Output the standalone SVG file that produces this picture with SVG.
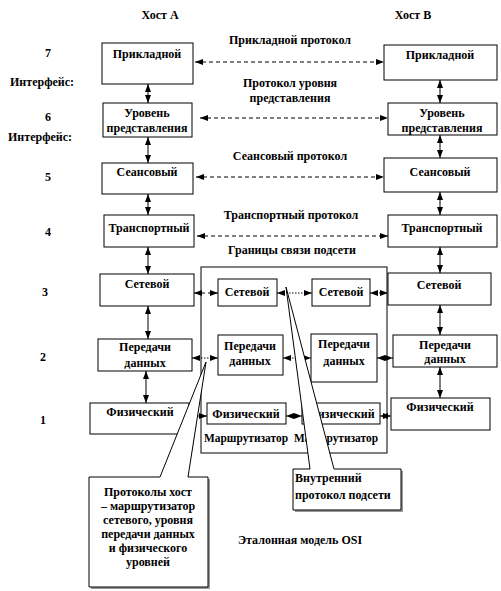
<svg xmlns="http://www.w3.org/2000/svg" width="501" height="591" viewBox="0 0 501 591">
<defs>
<marker id="ah" markerWidth="8" markerHeight="6" refX="8" refY="3" orient="auto-start-reverse" markerUnits="userSpaceOnUse"><path d="M0,0 L8,3 L0,6 z" fill="#000"/></marker>
</defs>
<style>
text{font-family:"Liberation Serif","Times New Roman",serif;font-weight:bold;font-size:12px;fill:#000}
.c{text-anchor:middle}
.box{fill:#fff;stroke:#000;stroke-width:1}
.a{stroke:#000;stroke-width:1;fill:none;marker-start:url(#ah);marker-end:url(#ah)}
.e{stroke:#000;stroke-width:1;fill:none;marker-end:url(#ah)}
.d{stroke-dasharray:4 3}
.o{stroke-dasharray:1.5 1.5}
.co{fill:#fff;stroke:#000;stroke-width:1}
.sh{fill:#999}
</style>
<rect width="501" height="591" fill="#fff"/>

<g id="labels">
<text class="c" x="160" y="19">Хост А</text>
<text class="c" x="413" y="19">Хост В</text>
<text class="c" x="48" y="57">7</text>
<text x="10" y="86">Интерфейс:</text>
<text class="c" x="48" y="121">6</text>
<text x="8" y="141">Интерфейс:</text>
<text class="c" x="48" y="181">5</text>
<text class="c" x="48" y="236">4</text>
<text class="c" x="45" y="296">3</text>
<text class="c" x="43" y="361">2</text>
<text class="c" x="43" y="424">1</text>
<text class="c" x="290" y="44">Прикладной протокол</text>
<text class="c" x="290" y="87">Протокол уровня</text>
<text class="c" x="290" y="102">представления</text>
<text class="c" x="290" y="160">Сеансовый протокол</text>
<text class="c" x="291" y="219">Транспортный протокол</text>
<text class="c" x="292" y="254">Границы связи подсети</text>
<text class="c" x="300" y="544">Эталонная модель OSI</text>
</g>

<g id="router-area">
<rect class="box" x="201" y="267" width="186" height="186"/>
<text x="204" y="442" textLength="84" lengthAdjust="spacingAndGlyphs">Маршрутизатор</text>
<text x="294" y="442" textLength="84" lengthAdjust="spacingAndGlyphs">Маршрутизатор</text>
</g>

<g id="a7"><rect class="box" x="102" y="43" width="91" height="41"/><text class="c" x="147" y="58">Прикладной</text></g>
<g id="a6"><rect class="box" x="103" y="103" width="89" height="34"/><text class="c" x="147" y="117">Уровень</text><text class="c" x="147" y="132">представления</text></g>
<g id="a5"><rect class="box" x="102" y="163" width="91" height="31"/><text class="c" x="147" y="176">Сеансовый</text></g>
<g id="a4"><rect class="box" x="104" y="215" width="90" height="32"/><text class="c" x="149" y="232">Транспортный</text></g>
<g id="a3"><rect class="box" x="100" y="274" width="94" height="32"/><text class="c" x="147" y="288">Сетевой</text></g>
<g id="a2"><rect class="box" x="98" y="339" width="94" height="32"/><text class="c" x="145" y="351">Передачи</text><text class="c" x="145" y="367">данных</text></g>
<g id="a1"><rect class="box" x="90" y="403" width="99" height="31"/><text class="c" x="140" y="416">Физический</text></g>

<g id="b7"><rect class="box" x="384" y="45" width="113" height="35"/><text class="c" x="440" y="59">Прикладной</text></g>
<g id="b6"><rect class="box" x="388" y="103" width="109" height="32"/><text class="c" x="442" y="117">Уровень</text><text class="c" x="442" y="132">представления</text></g>
<g id="b5"><rect class="box" x="384" y="158" width="113" height="34"/><text class="c" x="440" y="176">Сеансовый</text></g>
<g id="b4"><rect class="box" x="388" y="215" width="109" height="32"/><text class="c" x="442" y="232">Транспортный</text></g>
<g id="b3"><rect class="box" x="388" y="273" width="103" height="32"/><text class="c" x="439" y="289">Сетевой</text></g>
<g id="b2"><rect class="box" x="393" y="335" width="104" height="32"/><text class="c" x="445" y="349">Передачи</text><text class="c" x="445" y="363">данных</text></g>
<g id="b1"><rect class="box" x="391" y="398" width="99" height="32"/><text class="c" x="440" y="411">Физический</text></g>

<g id="r1-net"><rect class="box" x="218" y="279" width="59" height="27"/><text class="c" x="247" y="296">Сетевой</text></g>
<g id="r2-net"><rect class="box" x="312" y="279" width="58" height="27"/><text class="c" x="341" y="296">Сетевой</text></g>
<g id="r1-dl"><rect class="box" x="218" y="335" width="65" height="40"/><text class="c" x="250" y="350">Передачи</text><text class="c" x="250" y="365">данных</text></g>
<g id="r2-dl"><rect class="box" x="311" y="334" width="66" height="48"/><text class="c" x="344" y="348">Передачи</text><text class="c" x="344" y="365">данных</text></g>
<g id="r1-ph"><rect class="box" x="207" y="403" width="79" height="21"/><text class="c" x="246" y="418">Физический</text></g>
<g id="r2-ph"><rect class="box" x="302" y="403" width="78" height="21"/><text class="c" x="341" y="418">Физический</text></g>

<g id="connectors">
<line class="a" x1="148" y1="84" x2="148" y2="103"/>
<line class="a" x1="148" y1="137" x2="148" y2="163"/>
<line class="a" x1="148" y1="194" x2="148" y2="215"/>
<line class="a" x1="148" y1="247" x2="148" y2="274"/>
<line class="a" x1="148" y1="306" x2="148" y2="339"/>
<line class="a" x1="146" y1="371" x2="146" y2="403"/>
<line class="a" x1="440" y1="80" x2="440" y2="103"/>
<line class="a" x1="440" y1="135" x2="440" y2="158"/>
<line class="a" x1="440" y1="192" x2="440" y2="215"/>
<line class="a" x1="440" y1="247" x2="440" y2="273"/>
<line class="a" x1="440" y1="305" x2="440" y2="335"/>
<line class="a" x1="440" y1="367" x2="440" y2="398"/>
<line class="a d" x1="195" y1="62" x2="384" y2="62"/>
<line class="a d" x1="200" y1="118" x2="388" y2="118"/>
<line class="a d" x1="196" y1="177" x2="384" y2="177"/>
<line class="a d" x1="197" y1="236" x2="388" y2="236"/>
<line class="a d" x1="194" y1="293" x2="218" y2="293"/>
<line class="a o" x1="277" y1="293" x2="312" y2="293"/>
<line class="a o" x1="370" y1="293" x2="388" y2="293"/>
<line class="a o" x1="192" y1="358" x2="218" y2="358"/>
<line class="a o" x1="283" y1="358" x2="311" y2="358"/>
<line class="a o" x1="377" y1="358" x2="393" y2="358"/>
<line class="e" x1="194" y1="416" x2="207" y2="416"/>
<line class="a o" x1="286" y1="416" x2="302" y2="416"/>
<line class="a o" x1="380" y1="416" x2="391" y2="416"/>
</g>

<g id="callout-left">
<rect class="sh" x="91" y="479" width="119" height="110"/>
<path class="co" d="M89,477 L160,477 L206,362 L188,477 L208,477 L208,587 L89,587 Z"/>
<text class="c" x="148" y="496">Протоколы хост</text>
<text class="c" x="148" y="510">– маршрутизатор</text>
<text class="c" x="148" y="524">сетевого, уровня</text>
<text class="c" x="148" y="538">передачи данных</text>
<text class="c" x="148" y="552">и физического</text>
<text class="c" x="148" y="566">уровней</text>
</g>

<g id="callout-right">
<rect class="sh" x="295" y="471" width="108" height="41"/>
<path class="co" d="M293,469 L310,469 L286,287 L334,469 L401,469 L401,510 L293,510 Z"/>
<text x="295" y="482">Внутренний</text>
<text x="295" y="499">протокол подсети</text>
</g>
</svg>
